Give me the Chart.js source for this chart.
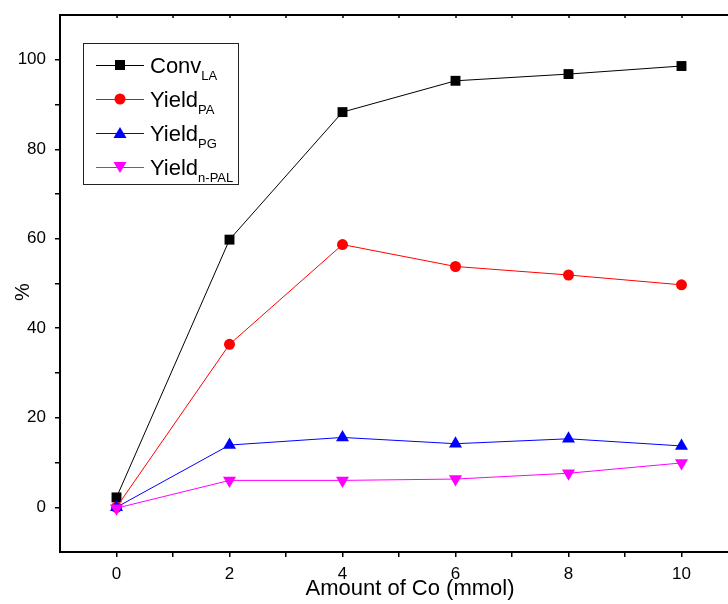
<!DOCTYPE html>
<html><head><meta charset="utf-8">
<script src="https://cdn.jsdelivr.net/npm/chart.js@4"></script>
<style>html,body{margin:0;padding:0;overflow:hidden;background:#fff;width:728px;height:604px}canvas{display:block}</style>
</head><body><canvas id="c" width="760" height="604" style="width:760px;height:604px"></canvas>
<script>
const amounts = [0, 2, 4, 6, 8, 10];
const convLA = [2.2, 59.8, 88.3, 95.3, 96.8, 98.6];
const yieldPA = [0, 36.4, 58.7, 53.8, 51.9, 49.7];
const yieldPG = [0, 13.9, 15.6, 14.2, 15.3, 13.7];
const yieldNPAL = [-0.2, 6.0, 6.0, 6.3, 7.6, 9.9];
const seriesMain = ['Conv', 'Yield', 'Yield', 'Yield'];
const seriesSub = ['LA', 'PA', 'PG', 'n-PAL'];
const seriesColors = ['#000000', '#ff0000', '#0000ff', '#ff00ff'];
const seriesShapes = ['rect', 'circle', 'triangle', 'triangleDown'];
const xTitle = 'Amount of Co (mmol)';
const yTitle = '%';
const xTickLabels = ['0', '2', '4', '6', '8', '10'];
const yTickLabels = ['0', '20', '40', '60', '80', '100'];

const FONT = '"Liberation Sans", Arial, sans-serif';

function mk(vals, i, radius, order) {
  const shape = seriesShapes[i];
  return {
    label: seriesMain[i] + seriesSub[i],
    data: amounts.map((a, k) => ({x: a, y: vals[k]})),
    borderColor: seriesColors[i],
    backgroundColor: seriesColors[i],
    borderWidth: 1,
    pointStyle: shape === 'triangleDown' ? 'triangle' : shape,
    rotation: shape === 'triangleDown' ? 180 : 0,
    pointRadius: radius,
    pointHoverRadius: radius,
    pointBorderWidth: 0,
    tension: 0,
    order: order
  };
}

const frame = {
  id: 'frame',
  afterDraw(chart) {
    const ctx = chart.ctx, ca = chart.chartArea, xs = chart.scales.x;
    ctx.save();
    // top axis
    ctx.strokeStyle = '#000'; ctx.lineWidth = 2;
    ctx.beginPath(); ctx.moveTo(ca.left - 1, ca.top); ctx.lineTo(ca.right, ca.top); ctx.stroke();
    ctx.lineWidth = 1.5;
    for (let v = 0; v <= 10; v++) {
      const px = Math.round(xs.getPixelForValue(v));
      ctx.beginPath(); ctx.moveTo(px, ca.top); ctx.lineTo(px, ca.top + 3); ctx.stroke();
    }
    // axis titles
    ctx.fillStyle = '#000';
    ctx.font = '22px ' + FONT;
    ctx.textAlign = 'center'; ctx.textBaseline = 'alphabetic';
    ctx.fillText(xTitle, 410, 595);
    ctx.save();
    ctx.translate(29, 292); ctx.rotate(-Math.PI / 2);
    ctx.font = '20px ' + FONT;
    ctx.textBaseline = 'alphabetic';
    ctx.fillText(yTitle, 0, 0);
    ctx.restore();
    // legend
    ctx.strokeStyle = '#222'; ctx.lineWidth = 1;
    ctx.strokeRect(83.5, 43.5, 155, 141);
    for (let i = 0; i < 4; i++) {
      const y = 65 + i * 34;
      ctx.strokeStyle = seriesColors[i]; ctx.fillStyle = seriesColors[i];
      ctx.lineWidth = 1;
      ctx.beginPath(); ctx.moveTo(96, y + 0.5); ctx.lineTo(144, y + 0.5); ctx.stroke();
      const cx = 120;
      ctx.beginPath();
      if (seriesShapes[i] === 'rect') { ctx.rect(cx - 5, y - 5, 10, 10); }
      else if (seriesShapes[i] === 'circle') { ctx.arc(cx, y, 5.5, 0, Math.PI * 2); }
      else if (seriesShapes[i] === 'triangle') { ctx.moveTo(cx, y - 6); ctx.lineTo(cx + 6.5, y + 5); ctx.lineTo(cx - 6.5, y + 5); ctx.closePath(); }
      else { ctx.moveTo(cx, y + 6); ctx.lineTo(cx + 6.5, y - 5); ctx.lineTo(cx - 6.5, y - 5); ctx.closePath(); }
      ctx.fill();
      ctx.fillStyle = '#000';
      ctx.textAlign = 'left'; ctx.textBaseline = 'alphabetic';
      ctx.font = '22px ' + FONT;
      ctx.fillText(seriesMain[i], 150, y + 8);
      const w = ctx.measureText(seriesMain[i]).width;
      ctx.font = '13px ' + FONT;
      ctx.fillText(seriesSub[i], 150 + w, y + 15);
    }
    ctx.restore();
  }
};

new Chart(document.getElementById('c'), {
  type: 'line',
  data: {
    datasets: [
      mk(convLA, 0, 7, 4),
      mk(yieldPA, 1, 5.5, 3),
      mk(yieldPG, 2, 7.5, 2),
      mk(yieldNPAL, 3, 7.5, 1)
    ]
  },
  options: {
    responsive: false,
    animation: false,
    devicePixelRatio: 1,
    layout: {padding: {left: 0, top: 15, right: 22, bottom: 0}},
    plugins: {legend: {display: false}, tooltip: {enabled: false}},
    scales: {
      x: {
        type: 'linear', min: -1, max: 11,
        afterFit(s) { s.height = 52; s.paddingLeft = 0; s.paddingRight = 0; },
        border: {display: true, color: '#000', width: 2},
        grid: {
          drawOnChartArea: false, drawTicks: true, tickLength: 5, lineWidth: 1.5,
          color: c => (c.tick && (c.tick.value < 0 || c.tick.value > 10)) ? 'rgba(0,0,0,0)' : '#000'
        },
        ticks: {
          stepSize: 1, autoSkip: false, maxRotation: 0, padding: 7, color: '#000',
          font: {family: FONT, size: 17},
          callback: v => { const i = xTickLabels.indexOf(String(v)); return i >= 0 ? xTickLabels[i] : ''; }
        }
      },
      y: {
        min: -10, max: 110,
        afterFit(s) { s.width = 60; s.paddingTop = 0; s.paddingBottom = 0; },
        border: {display: true, color: '#000', width: 2},
        grid: {
          drawOnChartArea: false, drawTicks: true, tickLength: 5, lineWidth: 1.5,
          color: c => (c.tick && (c.tick.value < 0 || c.tick.value > 100)) ? 'rgba(0,0,0,0)' : '#000'
        },
        ticks: {
          stepSize: 10, autoSkip: false, padding: 9, color: '#000',
          font: {family: FONT, size: 17},
          callback: v => { const i = yTickLabels.indexOf(String(v)); return i >= 0 ? yTickLabels[i] : ''; }
        }
      }
    }
  },
  plugins: [frame]
});
</script>
</body></html>
